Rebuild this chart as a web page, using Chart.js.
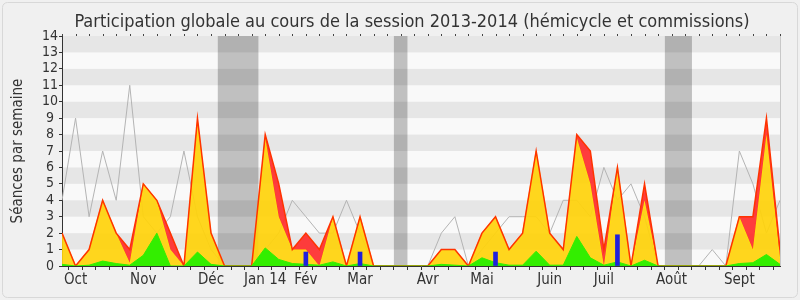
<!DOCTYPE html>
<html>
<head>
<meta charset="utf-8">
<script src="https://cdn.jsdelivr.net/npm/chart.js@4.4.0/dist/chart.umd.min.js"></script>
<style>
  html, body { margin: 0; padding: 0; background: #f0f0f0; }
</style>
</head>
<body>
<canvas id="participation" width="800" height="300"></canvas>
<script>
const FONT = '"DejaVu Sans Condensed", "DejaVu Sans", sans-serif';
const TITLE = 'Participation globale au cours de la session 2013-2014 (hémicycle et commissions)';

const weeks = [0, 1, 2, 3, 4, 5, 6, 7, 8, 9, 10, 11, 12, 13, 14, 15, 16, 17, 18, 19, 20, 21, 22, 23, 24, 25, 26,
  27, 28, 29, 30, 31, 32, 33, 34, 35, 36, 37, 38, 39, 40, 41, 42, 43, 44, 45, 46, 47, 48, 49, 50, 51, 52, 53];

const monthWeeks = [1, 6, 11, 15, 18, 22, 27, 31, 36, 40, 45, 50];
const monthLabels = ['Oct', 'Nov', 'Déc', 'Jan 14', 'Fév', 'Mar', 'Avr', 'Mai', 'Juin', 'Juil', 'Août', 'Sept'];

// vacances parlementaires (en semaines)
const vacations = [[11.5, 14.5], [24.5, 25.5], [44.5, 46.5]];

const presenceTotal = [2, 0, 1, 4, 2, 1, 5, 4, 2, 0, 9, 2, 0, 0, 0, 8, 5, 1, 2, 1, 3, 0, 3, 0, 0, 0, 0,
  0, 1, 1, 0, 2, 3, 1, 2, 7, 2, 1, 8, 7, 1, 6, 0, 5, 0, 0, 0, 0, 0, 0, 3, 3, 9, 1];
const presenceCommission = [2, 0, 1, 4, 2, 0.2, 5, 4, 1, 0, 8.8, 2, 0, 0, 0, 7.8, 3, 1, 1, 0, 3, 0, 3, 0, 0, 0, 0,
  0, 1, 1, 0, 2, 3, 1, 2, 7, 2, 1, 7.8, 5, 0, 6, 0, 4, 0, 0, 0, 0, 0, 0, 3, 1, 8, 0.5];
const participation = [0.1, 0, 0.05, 0.3, 0.15, 0.05, 0.65, 2, 0, 0, 0.85, 0.1, 0, 0, 0, 1.1, 0.4, 0.15, 0.1, 0.05, 0.25, 0, 0.15, 0, 0, 0, 0,
  0, 0.1, 0.05, 0, 0.5, 0.2, 0.05, 0.05, 0.9, 0.05, 0.05, 1.8, 0.5, 0.05, 0.25, 0, 0.35, 0, 0, 0, 0, 0, 0, 0.15, 0.2, 0.7, 0.1];
const medianPresence = [4, 9, 3, 7, 4, 11, 3, 2, 3, 7, 3, 1, 0, 0, 0, 1, 2, 4, 3, 2, 2, 4, 2, 0, 0, 0, 0,
  0, 2, 3, 0, 1, 2, 3, 3, 3, 2, 4, 4, 3, 6, 4, 5, 3, 0, 0, 0, 0, 1, 0, 7, 5, 2, 4];

const questionWeeks = [18, 22, 32, 41];
const questionValues = [0.85, 0.85, 0.85, 1.9];

const questions = weeks.map((w) => {
  const i = questionWeeks.indexOf(w);
  return i >= 0 ? questionValues[i] : null;
});

const backdrop = {
  id: 'backdrop',
  beforeDraw(chart) {
    const { ctx, chartArea } = chart;
    const { left, right, top, bottom } = chartArea;
    const xs = chart.scales.x;
    const ys = chart.scales.y;

    ctx.save();
    ctx.fillStyle = '#f0f0f0';
    ctx.fillRect(0, 0, chart.width, chart.height);
    ctx.strokeStyle = '#d8d8d8';
    ctx.lineWidth = 1;
    ctx.beginPath();
    ctx.roundRect(2.5, 2.5, chart.width - 5, chart.height - 5, 5);
    ctx.stroke();

    ctx.fillStyle = '#f9f9f9';
    ctx.fillRect(left, top, right - left, bottom - top);

    ctx.fillStyle = '#c0c0c0';
    vacations.forEach(([a, b]) => {
      const xa = xs.getPixelForValue(a);
      const xb = xs.getPixelForValue(b);
      ctx.fillRect(xa, top, xb - xa, bottom - top);
    });

    ctx.fillStyle = 'rgba(0,0,0,0.075)';
    for (let v = 1; v < 14; v += 2) {
      const y1 = ys.getPixelForValue(v + 1);
      const y0 = ys.getPixelForValue(v);
      ctx.fillRect(left, y1, right - left, y0 - y1);
    }

    ctx.strokeStyle = '#c8c8c8';
    ctx.beginPath();
    ctx.moveTo(right + 0.5, top);
    ctx.lineTo(right + 0.5, bottom);
    ctx.stroke();

    ctx.fillStyle = '#333';
    ctx.font = '18px ' + FONT;
    ctx.textAlign = 'center';
    ctx.textBaseline = 'alphabetic';
    ctx.fillText(TITLE, 412, 27, 732);
    ctx.restore();
  },
  afterDraw(chart) {
    const { ctx, chartArea } = chart;
    const xs = chart.scales.x;
    ctx.save();
    ctx.fillStyle = '#444';
    weeks.forEach((w) => {
      ctx.fillRect(Math.round(xs.getPixelForValue(w)), chartArea.top - 2, 1, 2);
    });
    ctx.restore();
  }
};

new Chart(document.getElementById('participation'), {
  type: 'line',
  data: {
    labels: weeks,
    datasets: [
      {
        label: 'Médiane des présences',
        data: medianPresence,
        borderColor: '#b4b4b4',
        borderWidth: 1,
        fill: false,
        order: 5,
      },
      {
        label: 'Présences en commission',
        data: presenceCommission,
        borderColor: '#ffee00',
        borderWidth: 1,
        backgroundColor: 'rgba(255,211,10,0.92)',
        fill: 'origin',
        order: 4,
      },
      {
        label: 'Présences totales',
        data: presenceTotal,
        borderColor: '#ff3300',
        borderWidth: 1.5,
        backgroundColor: 'rgba(255,45,45,0.92)',
        fill: 1,
        order: 3,
      },
      {
        label: 'Participations',
        data: participation,
        borderColor: '#33ee00',
        borderWidth: 1,
        backgroundColor: '#33ee00',
        fill: 'origin',
        order: 2,
      },
      {
        type: 'bar',
        label: 'Questions orales',
        data: questions,
        backgroundColor: '#2020dd',
        barThickness: 4,
        order: 1,
      },
    ],
  },
  options: {
    responsive: false,
    animation: false,
    layout: { padding: { left: 0, top: 36, right: 20, bottom: 0 } },
    elements: { point: { radius: 0 }, line: { tension: 0 } },
    plugins: { legend: { display: false }, tooltip: { enabled: false } },
    scales: {
      x: {
        type: 'linear',
        min: 0,
        max: 53,
        offset: false,
        afterBuildTicks: (axis) => { axis.ticks = weeks.map((v) => ({ value: v })); },
        afterFit: (axis) => { axis.height = 34; },
        grid: { drawOnChartArea: false, drawTicks: true, tickLength: 4, color: '#333' },
        border: { color: '#333' },
        ticks: {
          autoSkip: false,
          maxRotation: 0,
          minRotation: 0,
          padding: 1,
          color: '#333',
          font: { family: FONT, size: 15 },
          callback: (v) => {
            const i = monthWeeks.indexOf(v);
            return i >= 0 ? monthLabels[i] : '';
          },
        },
      },
      y: {
        min: 0,
        max: 14,
        afterFit: (axis) => { axis.width = 62; },
        grid: { drawOnChartArea: false, tickLength: 3, color: '#333' },
        border: { color: '#333' },
        ticks: {
          stepSize: 1,
          autoSkip: false,
          crossAlign: 'center',
          padding: 1,
          color: '#333',
          font: { family: FONT, size: 14 },
        },
        title: {
          display: true,
          text: 'Séances par semaine',
          color: '#333',
          font: { family: FONT, size: 15 },
          padding: { top: 9, bottom: 0 },
        },
      },
    },
  },
  plugins: [backdrop],
});
</script>
</body>
</html>
